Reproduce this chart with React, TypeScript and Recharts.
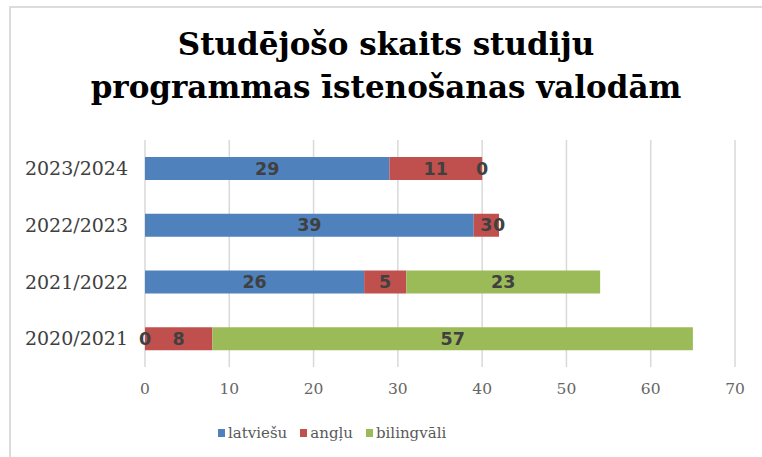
import React from "react";
import { BarChart, Bar, XAxis, YAxis, CartesianGrid, LabelList } from "recharts";

const categories = ["2020/2021", "2021/2022", "2022/2023", "2023/2024"];
const latviesu = [0, 26, 39, 29];
const anglu = [8, 5, 3, 11];
const bilingvali = [57, 23, 0, 0];
const xTicks = [0, 10, 20, 30, 40, 50, 60, 70];

const seriesNames = ["latviešu", "angļu", "bilingvāli"];
const colors = ["#4f81bd", "#c0504d", "#9bbb59"];

const data = categories.map((c, i) => ({
  cat: c,
  latviesu: latviesu[i],
  anglu: anglu[i],
  bilingvali: bilingvali[i],
}));

const labelStyle = {
  fill: "#404040",
  fontSize: 17.5,
  fontWeight: 700,
  fontFamily: "DejaVu Sans",
};

export default function App() {
  const keys = ["latviesu", "anglu", "bilingvali"];
  return (
    <div style={{ position: "absolute", left: 0, top: 0, width: 762, height: 457, background: "#fff", overflow: "hidden" }}>
      <div style={{ position: "absolute", left: 9, top: 6, width: 753, height: 2, background: "#dcdcdc" }} />
      <div style={{ position: "absolute", left: 9, top: 6, width: 2, height: 451, background: "#dcdcdc" }} />
      <div
        style={{
          position: "absolute",
          left: 10,
          top: 23,
          width: 752,
          textAlign: "center",
          fontFamily: "DejaVu Serif",
          fontWeight: 700,
          fontSize: 31,
          lineHeight: "43px",
          color: "#000",
        }}
      >
        Studējošo skaits studiju
        <br />
        programmas īstenošanas valodām
      </div>
      <BarChart
        width={762}
        height={457}
        data={data}
        layout="vertical"
        margin={{ top: 140, right: 27, bottom: 50, left: 0 }}
        style={{ position: "absolute", left: 0, top: 0 }}
      >
        <CartesianGrid horizontal={false} vertical={true} stroke="#d9d9d9" strokeWidth={1.5} />
        <XAxis
          type="number"
          domain={[0, 70]}
          ticks={xTicks}
          axisLine={false}
          tickLine={false}
          tickSize={0}
          tickMargin={16}
          tick={{ fill: "#666666", fontSize: 15.5, fontFamily: "DejaVu Serif" }}
          height={40}
        />
        <YAxis
          type="category"
          dataKey="cat"
          reversed
          width={145}
          axisLine={false}
          tickLine={false}
          tickSize={0}
          tickMargin={17}
          tick={{ fill: "#404040", fontSize: 19, fontFamily: "DejaVu Serif" }}
        />
        {keys.map((k, i) => (
          <Bar
            key={k}
            dataKey={k}
            stackId="a"
            fill={colors[i]}
            barSize={23}
            minPointSize={0.01}
            isAnimationActive={false}
          >
            <LabelList dataKey={k} position="center" style={labelStyle} />
          </Bar>
        ))}
      </BarChart>
      <div
        style={{
          position: "absolute",
          left: 218,
          top: 423,
          display: "flex",
          fontFamily: "DejaVu Serif",
          fontSize: 15,
          lineHeight: "20px",
          color: "#595959",
        }}
      >
        {seriesNames.map((n, i) => (
          <div key={n} style={{ display: "flex", alignItems: "center", marginRight: 13 }}>
            <span style={{ display: "inline-block", width: 7, height: 8, background: colors[i], marginRight: 3 }} />
            <span>{n}</span>
          </div>
        ))}
      </div>
    </div>
  );
}
